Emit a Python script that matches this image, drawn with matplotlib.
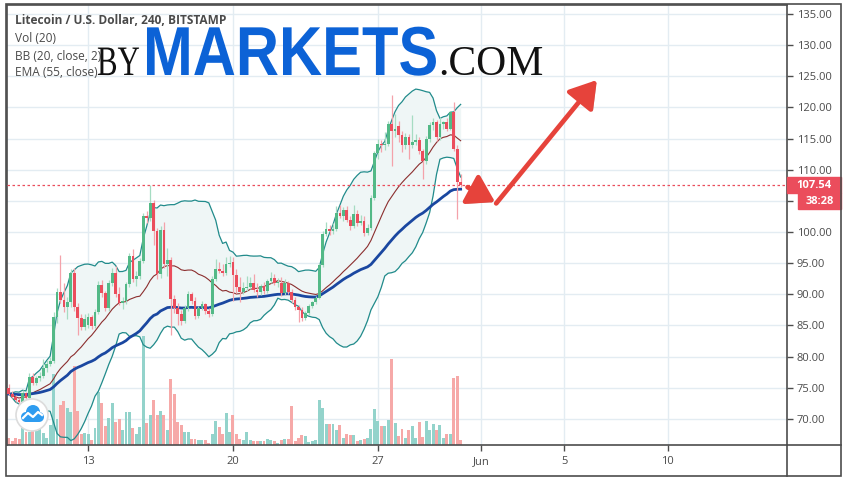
import numpy as np
import pandas as pd
import matplotlib
matplotlib.use("Agg")
import matplotlib.pyplot as plt
import matplotlib.patheffects as pe
from matplotlib.patches import Rectangle, Circle, FancyArrowPatch
from matplotlib.transforms import IdentityTransform, blended_transform_factory, Affine2D

# LTC/USD 4h candles (Bitstamp), May 9 04:00 -> May 31 00:00
opens = [75.0, 74.0, 73.6, 73.0, 72.8, 74.2, 73.4, 76.8, 75.8, 76.6,
         76.9, 78.2, 78.9, 79.3, 86.4, 90.3, 89.1, 88.0, 88.7, 93.4,
         88.0, 86.2, 84.8, 85.0, 86.4, 84.9, 87.2, 91.5, 90.2, 87.8,
         91.8, 93.4, 90.0, 88.6, 88.9, 91.6, 96.1, 92.4, 92.9, 95.3,
         102.5, 102.2, 104.7, 100.1, 93.2, 100.4, 94.8, 95.5, 89.2, 87.8,
         86.9, 85.7, 87.8, 90.0, 88.9, 86.5, 87.8, 88.4, 87.3, 86.9,
         92.5, 94.1, 93.8, 93.4, 94.8, 95.2, 93.1, 91.2, 90.4, 91.0,
         91.2, 91.9, 90.7, 90.4, 91.3, 90.5, 92.2, 92.6, 91.8, 91.9,
         90.2, 91.9, 90.4, 89.1, 87.9, 87.5, 86.2, 87.0, 88.1, 88.7,
         89.4, 94.7, 99.7, 100.5, 100.1, 100.5, 103.1, 102.6, 103.5, 102.0,
         101.0, 102.9, 101.5, 101.8, 99.9, 100.6, 105.5, 112.7, 114.1, 113.9,
         114.2, 117.3, 116.2, 117.0, 115.5, 113.9, 115.2, 113.9, 114.5, 114.7,
         113.0, 111.4, 114.9, 117.2, 117.6, 115.2, 117.3, 117.6, 116.6, 119.3,
         113.3, 108.1]
highs = [75.6, 74.5, 73.9, 73.4, 74.6, 74.4, 77.4, 77.3, 76.9, 77.5,
         79.6, 79.4, 80.0, 87.2, 91.0, 96.3, 91.8, 89.6, 94.0, 94.2,
         88.6, 86.8, 86.9, 87.0, 86.7, 87.6, 92.1, 92.3, 90.6, 92.3,
         94.3, 94.6, 91.2, 89.5, 92.0, 96.6, 97.3, 93.8, 95.8, 103.0,
         103.4, 107.6, 105.2, 100.6, 101.0, 101.6, 97.5, 96.0, 89.9, 88.6,
         87.5, 88.3, 90.6, 90.4, 89.5, 88.2, 88.9, 88.6, 87.8, 93.0,
         95.6, 95.2, 94.8, 96.0, 96.2, 96.0, 94.0, 92.8, 92.0, 93.0,
         92.8, 93.3, 91.8, 91.6, 92.0, 92.5, 93.6, 93.2, 92.6, 92.8,
         92.4, 92.2, 90.8, 89.5, 88.3, 87.9, 87.4, 88.4, 89.0, 89.7,
         95.0, 100.2, 101.6, 101.2, 101.4, 104.2, 104.3, 104.0, 104.1, 102.6,
         104.3, 103.6, 102.8, 102.5, 101.3, 106.0, 113.0, 115.0, 114.8, 116.0,
         117.8, 122.0, 118.9, 117.8, 116.2, 115.9, 115.8, 118.8, 115.8, 115.2,
         113.4, 115.4, 117.6, 118.3, 118.0, 118.4, 117.8, 118.3, 119.5, 120.8,
         114.0, 109.3]
lows = [73.8, 73.3, 72.7, 72.4, 72.6, 73.1, 73.2, 75.4, 75.5, 76.1,
        76.6, 77.5, 78.5, 79.0, 85.4, 88.6, 87.2, 86.0, 87.9, 87.4,
        83.4, 84.2, 84.3, 84.6, 84.4, 84.6, 86.9, 89.6, 87.3, 87.4,
        91.4, 89.6, 88.3, 87.6, 88.5, 91.2, 92.0, 91.3, 92.4, 95.0,
        101.4, 101.8, 98.0, 92.5, 92.6, 94.3, 93.0, 83.4, 87.0, 85.1,
        85.0, 85.4, 87.4, 88.5, 86.1, 86.2, 87.5, 86.9, 86.4, 86.5,
        92.2, 93.5, 93.0, 93.1, 94.4, 89.0, 90.2, 88.8, 90.0, 90.6,
        90.8, 90.4, 89.5, 89.9, 90.1, 90.2, 91.8, 91.5, 91.2, 89.8,
        89.9, 90.0, 88.6, 87.5, 85.6, 85.8, 85.9, 86.7, 87.8, 88.4,
        89.2, 94.4, 99.3, 99.6, 99.7, 100.2, 102.2, 101.8, 101.6, 100.4,
        100.6, 101.0, 101.1, 99.3, 99.5, 100.3, 105.2, 111.8, 112.8, 113.2,
        113.8, 110.6, 115.2, 114.4, 112.8, 113.4, 111.7, 113.5, 113.9, 112.6,
        108.5, 111.0, 114.5, 116.4, 114.6, 114.8, 116.6, 116.2, 116.3, 113.0,
        102.1, 107.3]
closes = [74.0, 73.6, 73.0, 72.8, 74.2, 73.4, 76.8, 75.8, 76.6, 76.9,
          78.2, 78.9, 79.3, 86.4, 90.3, 89.1, 88.0, 88.7, 93.4, 88.0,
          86.2, 84.8, 86.1, 86.4, 84.9, 87.2, 91.5, 90.2, 87.8, 91.8,
          93.4, 90.0, 88.6, 88.9, 91.6, 96.1, 92.4, 92.9, 95.3, 102.5,
          102.2, 104.7, 100.1, 93.2, 100.4, 94.8, 95.5, 89.2, 87.8, 86.9,
          85.7, 87.8, 90.0, 88.9, 86.5, 87.8, 88.4, 87.3, 86.9, 92.5,
          94.1, 93.8, 93.4, 94.8, 95.0, 93.1, 91.2, 90.4, 91.0, 91.2,
          91.9, 90.7, 90.4, 91.3, 90.5, 92.2, 92.6, 91.8, 91.9, 90.2,
          91.9, 90.4, 89.1, 87.9, 87.5, 86.2, 87.0, 88.1, 88.7, 89.4,
          94.7, 99.7, 100.5, 100.1, 100.5, 103.1, 102.6, 103.5, 102.0, 101.0,
          102.9, 101.5, 101.8, 99.9, 100.6, 105.5, 112.7, 114.1, 113.9, 114.2,
          117.3, 116.2, 116.5, 115.5, 113.9, 115.2, 113.9, 114.5, 114.7, 113.0,
          111.4, 114.9, 117.2, 117.6, 115.2, 117.3, 117.6, 116.6, 119.2, 113.3,
          108.1, 107.54]
# volume, read as bar heights (pixels) on the chart
volumes = [7, 4, 7, 6, 17, 13, 13, 15, 14, 16,
           12, 7, 20, 71, 26, 40, 44, 37, 33, 79,
           34, 11, 12, 11, 5, 17, 53, 42, 19, 27,
           42, 23, 26, 15, 33, 33, 17, 11, 18, 109,
           22, 30, 45, 30, 34, 30, 15, 66, 51, 23,
           20, 13, 13, 6, 6, 5, 5, 5, 2, 11,
           24, 18, 11, 32, 13, 30, 11, 6, 5, 13,
           5, 4, 4, 4, 4, 6, 5, 4, 2, 5,
           6, 6, 39, 4, 7, 10, 9, 3, 4, 5,
           45, 37, 21, 21, 21, 15, 20, 7, 11, 10,
           10, 4, 5, 6, 7, 16, 36, 24, 19, 19,
           25, 86, 22, 9, 16, 7, 15, 19, 7, 23,
           8, 24, 15, 21, 15, 20, 7, 11, 11, 67,
           69, 5]

date_ticks = [23, 65, 107, 137, 161, 191]   # bar index of each day label
date_labels = ["13", "20", "27", "Jun", "5", "10"]
price_ticks = list(range(70, 136, 5))
last_price = 107.54
countdown = "38:28"
title = "Litecoin / U.S. Dollar, 240, BITSTAMP"
legend = ["Vol (20)", "BB (20, close, 2)", "EMA (55, close)"]
arrow1 = [(133.0, 107.2), (141.0, 104.8)]
arrow2 = [(141.3, 104.6), (170.5, 124.4)]

W, H = 844, 479
UP, DOWN = "#53b987", "#eb4d5c"
UP_W, DOWN_W = "#a6dcc2", "#f4a2aa"
UP_V, DOWN_V = "#93d3cb", "#f6a9a8"
GRID = "#e3ecf2"
FRAME = "#4d4d4d"
TXT = "#4a4a4a"
plt.rcParams["font.family"] = ["Open Sans", "DejaVu Sans"]

fig = plt.figure(figsize=(W / 100, H / 100), dpi=100)
ax = fig.add_axes([7 / W, 1 - 445 / H, 780 / W, 440 / H])
ax.set_xlim(-0.5, 225.6)
ax.set_ylim(65.82, 136.44)

o = np.array(opens); hi = np.array(highs); lo = np.array(lows); c = np.array(closes)
x = np.arange(len(c))
up = c >= o

for t in date_ticks:
    ax.axvline(t, color=GRID, lw=1, zorder=0)
for p in price_ticks:
    ax.axhline(p, color=GRID, lw=1, zorder=0)

s = pd.Series(c)
basis = s.rolling(20, min_periods=1).mean()
dev = s.rolling(20, min_periods=1).std(ddof=0)
upper, lower = basis + 2 * dev, basis - 2 * dev
ema = s.ewm(span=55, adjust=False).mean()

ax.fill_between(x, lower, upper, color="#eff6f6", lw=0, zorder=1)

# volume overlay, bottom of pane
vtr = blended_transform_factory(ax.transData, ax.transAxes)
ax.bar(x, np.array(volumes) / 440, width=0.85, bottom=0,
       color=np.where(up, UP_V, DOWN_V), transform=vtr, zorder=2)

ax.plot(x, upper, color="#218b8b", lw=0.9, zorder=3)
ax.plot(x, lower, color="#218b8b", lw=0.9, zorder=3)
ax.plot(x, basis, color="#8b2e2e", lw=0.8, zorder=3)
ax.plot(x, ema, color="#1a47a0", lw=2.0, zorder=4)

ax.vlines(x, lo, hi, colors=np.where(up, UP_W, DOWN_W), lw=0.9, zorder=5)
ax.bar(x, np.maximum(np.abs(c - o), 0.15), bottom=np.minimum(o, c), width=0.8,
       color=np.where(up, UP, DOWN), zorder=6)

ax.axhline(last_price, color=DOWN, lw=0.9, ls=(0, (2, 2)), zorder=4)

# axes styling
ax.yaxis.tick_right()
ax.set_yticks(price_ticks, [f"{p:.2f}" for p in price_ticks])
ax.set_xticks(date_ticks, date_labels)
ax.tick_params(axis="y", length=4, width=1, color=FRAME, labelcolor=TXT,
               labelsize=8, pad=3)
ax.tick_params(axis="x", length=4, width=1, color=FRAME, labelcolor=TXT,
               labelsize=8, pad=4)
for sp in ax.spines.values():
    sp.set_color(FRAME)
    sp.set_linewidth(1.2)

# price tags
btr = blended_transform_factory(ax.transAxes, ax.transData)
ax.add_patch(Rectangle((1.0, last_price - 1.3), 54 / 780, 2.6, transform=btr,
                       color=DOWN, clip_on=False, zorder=10))
ax.text(1.0 + 27 / 780, last_price, f"{last_price:.2f}", transform=btr, ha="center",
        va="center", color="white", fontsize=8, fontweight="bold", clip_on=False, zorder=11)
ax.add_patch(Rectangle((1.0 + 11 / 780, 103.7), 43 / 780, 2.55, transform=btr,
                       color=DOWN, clip_on=False, zorder=10))
ax.text(1.0 + 32.5 / 780, 104.95, countdown, transform=btr, ha="center",
        va="center", color="white", fontsize=8, fontweight="bold", clip_on=False, zorder=11)

# arrows
for a, b in (arrow1, arrow2):
    ar = FancyArrowPatch(a, b, arrowstyle="-|>,head_length=0.8,head_width=0.5",
                         mutation_scale=20, lw=3.4, color="#e6433b", zorder=12,
                         shrinkA=0, shrinkB=0,
                         path_effects=[pe.SimplePatchShadow(offset=(1.5, -1.5), alpha=0.35),
                                       pe.Normal()])
    ax.add_patch(ar)

# frame pieces outside the axes
idt = IdentityTransform()
fig.add_artist(Rectangle((6, H - 476), 835, 472, fill=False, ec=FRAME, lw=1.2, transform=idt))
fig.add_artist(plt.Line2D([787, 787], [H - 476, H - 445], color=FRAME, lw=1.2, transform=idt))
fig.add_artist(plt.Line2D([787, 841], [H - 445, H - 445], color=FRAME, lw=1.2, transform=idt))

# legend texts
fig.text(15 / W, 1 - 21 / H, title, fontsize=8.6, fontweight="bold", color=TXT, va="center")
for k, t in enumerate(legend):
    fig.text(15 / W, 1 - (39 + 17 * k) / H, t, fontsize=8.6, color=TXT, va="center")


class Tall(pe.AbstractPathEffect):
    """draw text taller than the font draws it, about its baseline"""
    def __init__(self, y0, sy):
        super().__init__()
        self.y0, self.sy = y0, sy

    def draw_path(self, renderer, gc, tpath, affine, rgbFace=None):
        aff = affine + Affine2D().translate(0, -self.y0).scale(1, self.sy).translate(0, self.y0)
        renderer.draw_path(gc, tpath, aff, rgbFace)


# watermark, baseline at y=75 px from top
base = H - 75
fig.text(97 / W, 1 - 75 / H, "BY", fontsize=22.2, family="Liberation Serif", color="#111111",
         va="baseline", path_effects=[Tall(base, 1.36)], zorder=20)
fig.text(143 / W, 1 - 75 / H, "MARKETS", fontsize=43, family="Liberation Sans",
         fontweight="bold", color="#0c62d6", va="baseline",
         path_effects=[Tall(base, 1.16)], zorder=20)
fig.text(438 / W, 1 - 75 / H, ".COM", fontsize=30, family="Liberation Serif",
         color="#111111", va="baseline", zorder=20)

# tradingview badge
fig.add_artist(Circle((32, H - 415), 16, fc="white", ec="#dcdcdc", lw=1.2, transform=idt, zorder=15))
for cx, cy, r in [(26, H - 417, 5), (33, H - 412, 7), (39, H - 417, 5)]:
    fig.add_artist(Circle((cx, cy), r, fc="#2e9cf0", ec="none", transform=idt, zorder=16))
fig.add_artist(Rectangle((26, H - 422), 13, 6, fc="#2e9cf0", ec="none", transform=idt, zorder=16))
fig.add_artist(plt.Line2D([23, 28, 33, 38, 42], [H - 418, H - 413, H - 417, H - 412, H - 415],
                          color="white", lw=1.6, transform=idt, zorder=17))

fig.savefig("out.png", dpi=100, facecolor="white")
